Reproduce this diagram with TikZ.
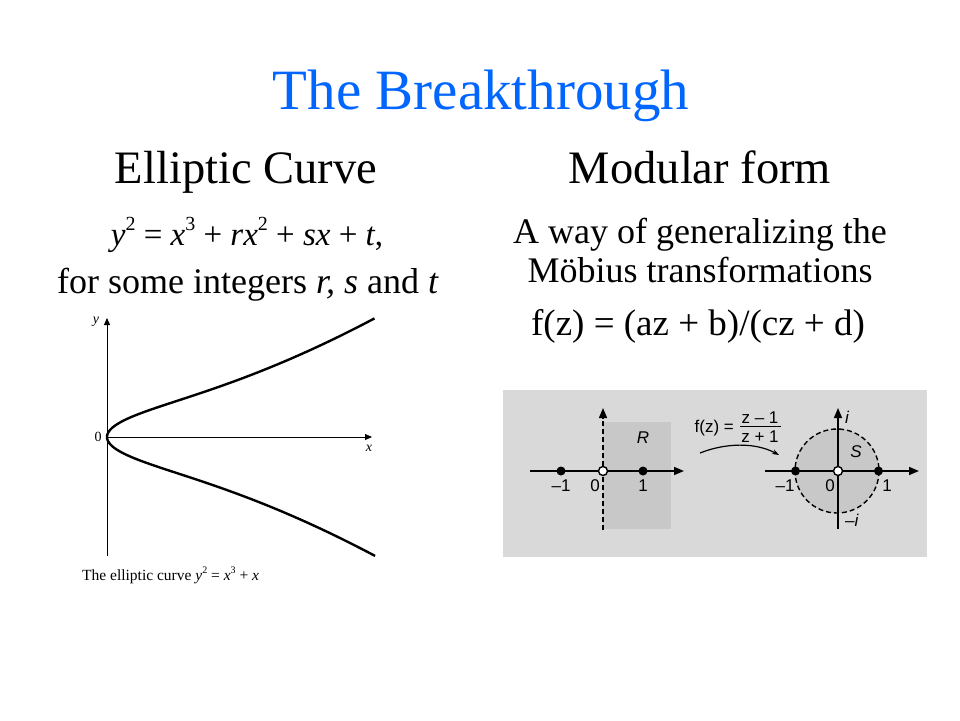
\documentclass[tikz,border=0pt]{standalone}
\usepackage{fontspec}
\setmainfont{Liberation Serif}
\newfontfamily\panelfont{Liberation Sans}
\usetikzlibrary{arrows.meta}
\definecolor{titleblue}{RGB}{0,102,255}
\definecolor{panelbg}{RGB}{217,217,217}
\definecolor{paneldark}{RGB}{200,200,200}
\newcommand{\sps}[1]{\raisebox{0.45em}{\fontsize{20}{20}\selectfont #1}}
\begin{document}
\begin{tikzpicture}[x=1pt,y=-1pt,
  titletext/.style={font=\fontsize{57}{60}\selectfont, text=titleblue, anchor=base, inner sep=0},
  headtext/.style={font=\fontsize{46.5}{50}\selectfont, anchor=base, inner sep=0},
  bodytext/.style={font=\fontsize{36}{38}\selectfont, anchor=base, inner sep=0},
  smalltext/.style={font=\fontsize{14}{16}\selectfont, inner sep=0},
  plabel/.style={font=\panelfont\fontsize{17}{19}\selectfont, inner sep=0},
  axisline/.style={line width=0.9pt, -{Triangle[length=7pt,width=6pt]}},
  paxis/.style={line width=1.6pt, -{Triangle[length=10pt,width=8pt]}},
  dot/.style={circle, fill=black, minimum size=9pt, inner sep=0},
  odot/.style={circle, fill=white, draw=black, line width=1.4pt, minimum size=9pt, inner sep=0}
]
\useasboundingbox (0,0) rectangle (960,720);
\fill[white] (0,0) rectangle (960,720);

% Title and headings
\node[titletext] (title) at (481,109) {The Breakthrough};
\node[headtext] (h1) at (246,183) {Elliptic Curve};
\node[headtext] (h2) at (700,183) {Modular form};

% Left text
\node[bodytext, font=\fontsize{33}{36}\selectfont] (eq) at (247,245) {\textit{y}\sps{2} = \textit{x}\sps{3} + \textit{rx}\sps{2} + \textit{sx} + \textit{t},};
\node[bodytext] (some) at (248,293) {for some integers \textit{r, s} and \textit{t}};

% Right text
\node[bodytext] (way) at (700,243) {A way of generalizing the};
\node[bodytext] (mob) at (700,282) {Möbius transformations};
\node[bodytext, font=\fontsize{37}{40}\selectfont] (fz) at (698,335) {f(z) = (az + b)/(cz + d)};

% Elliptic curve plot
\coordinate (o) at (107,437);
\coordinate (ytop) at (107,318);
\coordinate (ybot) at (107,556);
\coordinate (xend) at (372,437);
\draw[axisline] (ybot) -- (ytop);
\draw[axisline] (o) -- (xend);
\node[smalltext, font=\fontsize{14}{16}\selectfont\itshape] (ylab) at (96,322) {y};
\node[smalltext] (zlab) at (98,437) {0};
\node[smalltext, font=\fontsize{14}{16}\selectfont\itshape] (xlab) at (369,448) {x};
\draw[line width=2.4pt] plot[domain=-1.2272:1.2272, samples=120, smooth, variable=\t]
  ({107+178*\t*\t}, {437-53.6*\t*sqrt(\t*\t*\t*\t+1)});
\node[smalltext, font=\fontsize{15.5}{17}\selectfont, anchor=base west] (cap) at (82,580) {The elliptic curve \textit{y}\raisebox{0.4em}{\fontsize{10}{10}\selectfont 2} = \textit{x}\raisebox{0.4em}{\fontsize{10}{10}\selectfont 3} + \textit{x}};

% Moebius panel
\fill[panelbg] (503,390) rectangle (927,557);
\fill[paneldark] (603,422) rectangle (671,529);
\draw[paxis] (530,471) -- (684,471);
\draw[line width=1.4pt, dash pattern=on 5pt off 3pt] (603,530) -- (603,418);
\draw[line width=1.4pt, -{Triangle[length=10pt,width=8pt]}] (603,418) -- (603,408);
\node[dot] (lm1) at (561,471) {};
\node[dot] (lp1) at (643,471) {};
\node[odot] (l0) at (603,471) {};
\node[plabel] at (561,486) {–1};
\node[plabel] at (595,486) {0};
\node[plabel] at (643,486) {1};
\node[plabel, font=\panelfont\itshape\fontsize{17}{19}\selectfont] at (643,438) {R};

% formula
\node[plabel, anchor=east] (fzl) at (734,428) {f(z) =};
\node[plabel] (num) at (760,418) {z – 1};
\draw[line width=1pt] (740,426) -- (781,426);
\node[plabel] (den) at (760,437) {z + 1};
\coordinate (ma) at (700,453);
\coordinate (mb) at (779,455);
\draw[line width=1.2pt, -{Stealth[length=7pt,width=5pt]}] (ma) .. controls (725,443) and (755,442) .. (mb);

% right picture
\fill[paneldark] (837,471) circle (42);
\draw[line width=1.4pt, dash pattern=on 5pt off 3pt] (837,471) circle (42);
\draw[paxis] (765,471) -- (919,471);
\draw[line width=1.4pt, -{Triangle[length=10pt,width=8pt]}] (838,529) -- (838,408);
\node[dot] (rm1) at (795.5,471) {};
\node[dot] (rp1) at (878.5,471) {};
\node[odot] (r0) at (838,471) {};
\node[plabel] at (785,486) {–1};
\node[plabel] at (830,486) {0};
\node[plabel] at (887,486) {1};
\node[plabel, font=\panelfont\itshape\fontsize{17}{19}\selectfont] at (847,417) {i};
\node[plabel] at (852,520) {–\textit{i}};
\node[plabel, font=\panelfont\itshape\fontsize{17}{19}\selectfont] at (856,452) {S};
\end{tikzpicture}
\end{document}
